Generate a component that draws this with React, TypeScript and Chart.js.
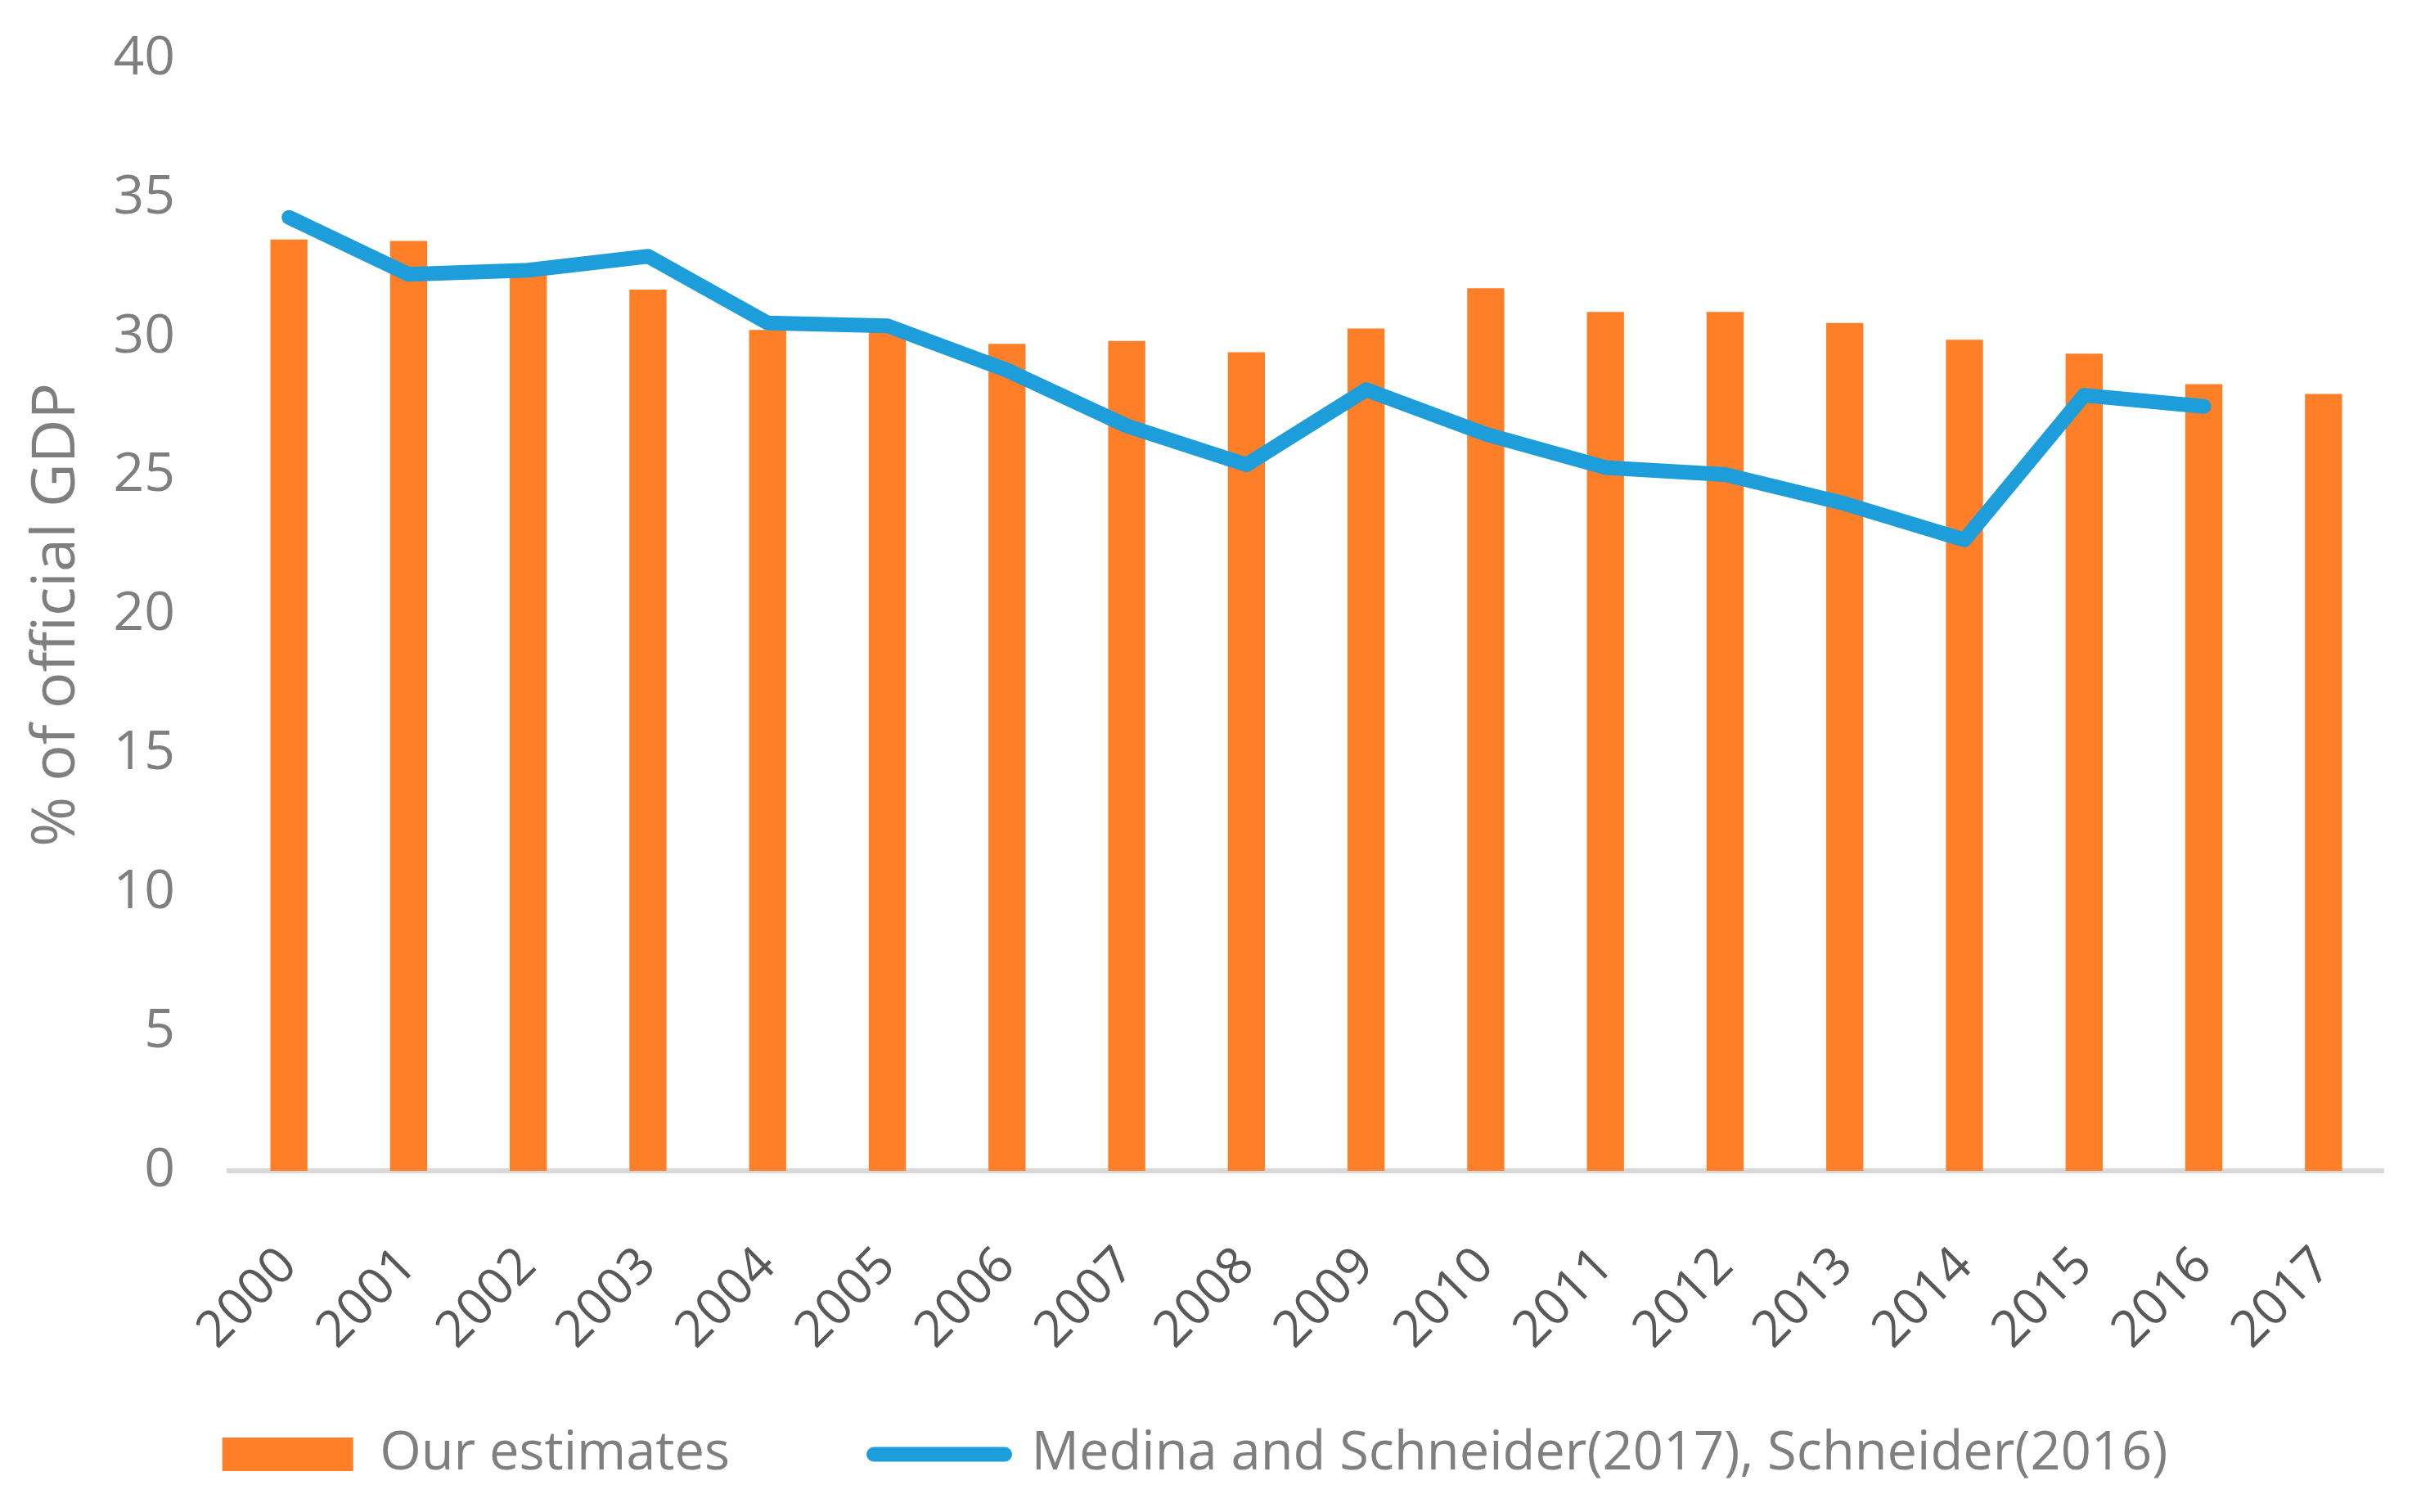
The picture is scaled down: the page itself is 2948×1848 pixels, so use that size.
import { useEffect, useRef } from 'react';
import { Chart, registerables, type ChartConfiguration, type Plugin } from 'chart.js';

Chart.register(...registerables);

const YEARS = ['2000', '2001', '2002', '2003', '2004', '2005', '2006', '2007', '2008', '2009',
  '2010', '2011', '2012', '2013', '2014', '2015', '2016', '2017'];

const OUR_ESTIMATES = [33.5, 33.45, 32.4, 31.7, 30.25, 30.4, 29.75, 29.85, 29.45, 30.3,
  31.75, 30.9, 30.9, 30.5, 29.9, 29.4, 28.3, 27.95];

const MEDINA_SCHNEIDER = [34.3, 32.25, 32.4, 32.9, 30.5, 30.4, 28.8, 26.8, 25.4, 28.1,
  26.5, 25.3, 25.05, 24.0, 22.7, 27.9, 27.5, null];

const Y_TICKS = [0, 5, 10, 15, 20, 25, 30, 35, 40];

const ORANGE = '#fe7f27';
const BLUE = '#1d9dd9';
const FONT = '"Open Sans", "Noto Sans", sans-serif';

// the x scale clips its tick labels to its own box; the rotated years hang
// below it into the legend's empty padding, as in the original
const unclipXLabels: Plugin = {
  id: 'unclipXLabels',
  beforeDraw(chart) {
    const x: any = chart.scales.x;
    if (x) x._computeLabelArea = () => undefined;
  },
};

export default function App() {
  const canvasRef = useRef<HTMLCanvasElement>(null);
  const chartRef = useRef<Chart | null>(null);

  useEffect(() => {
    const canvas = canvasRef.current;
    if (!canvas) return;
    if (chartRef.current) chartRef.current.destroy();

    const config: ChartConfiguration = {
      type: 'bar',
      data: {
        labels: YEARS,
        datasets: [
          {
            type: 'bar',
            label: 'Our estimates',
            data: OUR_ESTIMATES,
            backgroundColor: ORANGE,
            borderWidth: 0,
            barPercentage: 0.31,
            categoryPercentage: 1,
            order: 1,
          },
          {
            type: 'line',
            label: 'Medina and Schneider(2017), Schneider(2016)',
            data: MEDINA_SCHNEIDER,
            borderColor: BLUE,
            backgroundColor: BLUE,
            borderWidth: 18,
            borderCapStyle: 'round',
            borderJoinStyle: 'round',
            pointRadius: 0,
            pointHoverRadius: 0,
            tension: 0,
            fill: false,
            spanGaps: false,
            order: 0,
          },
        ],
      } as any,
      options: {
        responsive: true,
        maintainAspectRatio: false,
        animation: false,
        layout: { padding: { top: 64, right: 27, bottom: 20, left: 0 } },
        plugins: {
          tooltip: { enabled: false },
          legend: {
            display: true,
            position: 'bottom',
            align: 'center',
            labels: {
              color: '#7f7f7f',
              font: { family: FONT, size: 65 },
              usePointStyle: true,
              pointStyleWidth: 160,
              boxHeight: 41,
              padding: 176,
              sort: (a: any, b: any) => a.datasetIndex - b.datasetIndex,
              generateLabels: (chart: Chart) => {
                const items = Chart.defaults.plugins.legend.labels.generateLabels(chart);
                items.forEach((item) => {
                  if (item.datasetIndex === 1) {
                    item.pointStyle = 'line';
                    item.lineWidth = 18;
                    item.lineCap = 'round';
                    item.strokeStyle = BLUE;
                    item.fillStyle = BLUE;
                  } else {
                    item.pointStyle = 'rect';
                    item.lineWidth = 0;
                    item.fillStyle = ORANGE;
                  }
                });
                return items;
              },
            },
          },
        },
        scales: {
          x: {
            grid: { display: false },
            border: { display: true, color: '#d9d9d9', width: 6 },
            ticks: {
              color: '#595959',
              font: { family: FONT, size: 62 },
              minRotation: 45,
              maxRotation: 45,
              autoSkip: false,
              padding: 72,
            },
            afterFit: (scale: any) => {
              scale.height = 138;
              scale.paddingLeft = 0;
              scale.paddingRight = 0;
            },
          },
          y: {
            min: 0,
            max: 40,
            grid: { display: false },
            border: { display: false },
            afterBuildTicks: (scale: any) => { scale.ticks = Y_TICKS.map((v) => ({ value: v })); },
            ticks: {
              color: '#7f7f7f',
              font: { family: FONT, size: 66 },
              padding: 58,
            },
            title: {
              display: true,
              text: '% of official GDP',
              color: '#7f7f7f',
              font: { family: FONT, size: 74 },
              padding: { top: 18, bottom: 0 },
            },
            afterFit: (scale: any) => {
              scale.width = 272;
              scale.paddingTop = 0;
              scale.paddingBottom = 0;
            },
          },
        },
      },
      plugins: [unclipXLabels],
    };

    chartRef.current = new Chart(canvas, config);
    return () => { chartRef.current?.destroy(); chartRef.current = null; };
  }, []);

  return (
    <div style={{ position: 'relative', width: 2932, height: 1832 }}>
      <canvas ref={canvasRef} />
    </div>
  );
}
